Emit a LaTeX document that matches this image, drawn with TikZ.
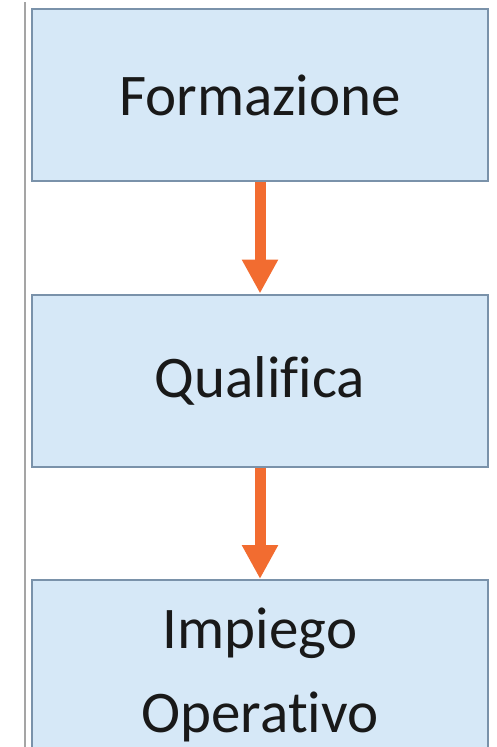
\documentclass[tikz,border=0pt]{standalone}
\usepackage{fontspec}
\setmainfont{Carlito}[Ligatures=NoCommon]
\usetikzlibrary{arrows.meta}
\definecolor{boxfill}{RGB}{214,232,247}
\definecolor{boxline}{RGB}{122,146,170}
\definecolor{arrowc}{RGB}{242,108,48}
\definecolor{sidel}{RGB}{165,165,165}
\begin{document}
\begin{tikzpicture}[x=1pt,y=-1pt,
  stepbox/.style={draw=boxline, line width=2pt, fill=boxfill, minimum width=456pt, minimum height=172pt, inner sep=0pt, font=\fontsize{59}{84}\selectfont, text=black!90},
  lbl/.style={font=\fontsize{59}{84}\selectfont, text=black!90, align=center, inner sep=0pt},
  flow/.style={draw=arrowc, line width=11pt, -{Triangle[width=34pt,length=34pt,fill=arrowc]}}]
\useasboundingbox (0,0) rectangle (496,747);
\fill[white] (0,0) rectangle (496,747);
\draw[sidel, line width=2pt] (25,2) -- (25,747);
\node[stepbox] (b1) at (260,95) {Formazione};
\node[stepbox] (b2) at (260,380.5) {Qualifica};
\node[stepbox] (b3) at (260,666) {};
\node[lbl, anchor=base] (t3) at (260,732) {Impiego\\Operativo};
\draw[flow] (b1.south) -- (b2.north);
\draw[flow] (b2.south) -- (b3.north);
\end{tikzpicture}
\end{document}
